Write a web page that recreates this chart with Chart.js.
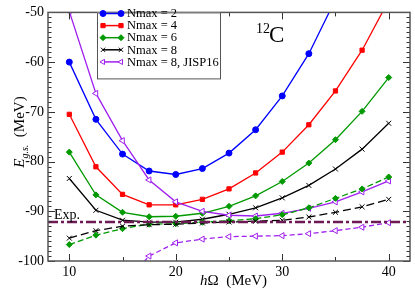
<!DOCTYPE html>
<html><head><meta charset="utf-8">
<script src="https://cdn.jsdelivr.net/npm/chart.js@4/dist/chart.umd.min.js"></script>
<style>html,body{margin:0;padding:0;background:#fff}canvas{display:block}</style>
</head><body>
<canvas id="c" width="415" height="290"></canvas>
<script>
// ---- data ----
const hw = [10, 12.5, 15, 17.5, 20, 22.5, 25, 27.5, 30, 32.5, 35, 37.5, 40];
const nmax2 = [-60.0, -71.5, -78.5, -81.9, -82.6, -81.4, -78.3, -73.6, -66.8, -58.3, -47.4, null, null];
const nmax4 = [-70.5, -81.05, -86.6, -88.7, -88.7, -87.6, -85.5, -82.3, -78.1, -72.6, -65.8, -57.6, -47.6];
const nmax6 = [-78.1, -86.7, -90.2, -91.1, -91.0, -90.4, -89.0, -86.9, -84.0, -80.3, -75.6, -69.9, -63.1];
const nmax8 = [-83.4, -89.8, -91.8, -92.2, -92.2, -91.6, -90.6, -89.3, -87.3, -84.8, -81.5, -77.5, -72.3];
const nmax8jisp = [-49.8, -66.3, -75.8, -83.7, -88.1, -90.0, -90.8, -90.95, -90.4, -89.4, -88.1, -86.1, -83.9];
const extrap6 = [-96.7, -94.8, -93.5, -92.6, -92.5, -92.2, -91.9, -91.5, -90.7, -89.3, -87.4, -85.5, -83.1];
const extrap8 = [-95.4, -93.9, -93.0, -92.7, -92.6, -92.35, -92.15, -92.0, -91.8, -91.15, -90.2, -89.1, -87.6];
const extrap8jisp = [null, null, -105, -99.0, -96.35, -95.6, -95.1, -95.0, -94.9, -94.5, -93.9, -93.2, -92.3];
const expValue = -92.16;
const xTicks = [10, 20, 30, 40];
const yTicks = [-100, -90, -80, -70, -60, -50];
const legendLabels = ['Nmax = 2', 'Nmax = 4', 'Nmax = 6', 'Nmax = 8', 'Nmax = 8, JISP16'];

const pts = arr => hw.map((x, i) => ({x: x, y: arr[i]})).filter(p => p.y !== null);

const BLUE = '#0000ff', RED = '#ff0000', GREEN = '#009a00', BLACK = '#000000', PURPLE = '#a020f0', EXPC = '#6e1a55';
const serif = '"Liberation Serif", "DejaVu Serif", serif';

function ds(data, color, style, opts) {
  return Object.assign({
    data: pts(data), borderColor: color, backgroundColor: color,
    pointBorderColor: color, pointBackgroundColor: color,
    pointStyle: style, pointRadius: 3, pointBorderWidth: 1,
    borderWidth: 1.3, tension: 0, showLine: true, spanGaps: false
  }, opts || {});
}

const datasets = [
  {data: [{x: 8, y: expValue}, {x: 42, y: expValue}], borderColor: EXPC, borderWidth: 2.5,
   borderDash: [10, 3, 3, 3], pointRadius: 0, showLine: true},
  ds(extrap8jisp, PURPLE, 'triangle', {borderDash: [5, 3], pointRotation: -90, pointBackgroundColor: '#fff', pointRadius: 3.5}),
  ds(extrap8, BLACK, 'crossRot', {borderDash: [8, 4], pointRadius: 3.5}),
  ds(extrap6, GREEN, 'rectRot', {borderDash: [6, 3]}),
  ds(nmax8jisp, PURPLE, 'triangle', {pointRotation: -90, pointBackgroundColor: '#fff', pointRadius: 3.5}),
  ds(nmax8, BLACK, 'crossRot', {pointRadius: 3.5}),
  ds(nmax6, GREEN, 'rectRot'),
  ds(nmax4, RED, 'rect'),
  ds(nmax2, BLUE, 'circle')
];

const legendStyles = [
  {c: BLUE, s: 'circle'}, {c: RED, s: 'rect'}, {c: GREEN, s: 'rectRot'},
  {c: BLACK, s: 'crossRot'}, {c: PURPLE, s: 'triangle', rot: -90, fill: '#fff'}
];

const decor = {
  id: 'decor',
  afterDatasetsDraw(chart) {
    const ctx = chart.ctx, a = chart.chartArea, xs = chart.scales.x, ys = chart.scales.y;
    ctx.save();
    // ticks (inward, all sides)
    ctx.strokeStyle = '#333'; ctx.lineWidth = 1;
    for (let v = 10; v <= 40; v += 5) {
      const px = Math.round(xs.getPixelForValue(v)) + 0.5;
      const L = (v % 10 === 0) ? 7 : 4;
      ctx.beginPath(); ctx.moveTo(px, a.bottom); ctx.lineTo(px, a.bottom - L);
      ctx.moveTo(px, a.top); ctx.lineTo(px, a.top + L); ctx.stroke();
    }
    for (let v = -100; v <= -50; v += 1) {
      const py = Math.round(ys.getPixelForValue(v)) + 0.5;
      const L = (v % 10 === 0) ? 7 : 3.5;
      ctx.beginPath(); ctx.moveTo(a.left, py); ctx.lineTo(a.left + L, py);
      ctx.moveTo(a.right, py); ctx.lineTo(a.right - L, py); ctx.stroke();
    }
    // frame
    ctx.strokeStyle = '#555'; ctx.lineWidth = 1.5;
    ctx.strokeRect(a.left, a.top, a.right - a.left, a.bottom - a.top);

    // legend box
    const lx = 97, ly = a.top, lw = 123, lh = 66;
    ctx.fillStyle = '#fff'; ctx.fillRect(lx, ly, lw, lh);
    ctx.strokeStyle = '#555'; ctx.lineWidth = 1; ctx.strokeRect(lx + 0.5, ly + 0.5, lw, lh);
    ctx.font = '12.5px ' + serif; ctx.textBaseline = 'middle'; ctx.textAlign = 'left';
    for (let i = 0; i < legendLabels.length; i++) {
      const y = 13.5 + i * 12.1, st = legendStyles[i];
      ctx.strokeStyle = st.c; ctx.lineWidth = 1.5;
      ctx.beginPath(); ctx.moveTo(103, y); ctx.lineTo(121, y); ctx.stroke();
      [103, 121].forEach(px => {
        ctx.fillStyle = st.fill || st.c; ctx.strokeStyle = st.c; ctx.lineWidth = 1;
        Chart.helpers.drawPoint(ctx, {pointStyle: st.s, rotation: st.rot || 0, radius: 3, borderWidth: 1}, px, y);
      });
      ctx.fillStyle = '#000';
      ctx.fillText(legendLabels[i], 127, y + 0.5);
    }

    // 12C label
    ctx.fillStyle = '#000'; ctx.textBaseline = 'alphabetic';
    ctx.font = '14px ' + serif; ctx.fillText('12', 256, 33);
    ctx.font = '23px ' + serif; ctx.fillText('C', 269, 42);

    // Exp. label
    ctx.font = '14px ' + serif; ctx.fillText('Exp.', 54, 219);

    // x title
    ctx.font = 'italic 15px ' + serif; ctx.fillText('h', 200, 285);
    let w = ctx.measureText('h').width;
    ctx.font = '15px ' + serif; ctx.fillText('\u03A9  (MeV)', 200 + w, 285);

    // y title (rotated)
    ctx.translate(24, 132); ctx.rotate(-Math.PI / 2);
    ctx.textBaseline = 'alphabetic';
    const parts = [['italic 15px ', 'E', 0], ['italic 10px ', 'g.s.', 4], ['15px ', '  (MeV)', 0]];
    let tot = 0;
    parts.forEach(p => { ctx.font = p[0] + serif; tot += ctx.measureText(p[1]).width; });
    let cx = -tot / 2;
    parts.forEach(p => { ctx.font = p[0] + serif; ctx.fillText(p[1], cx, p[2]); cx += ctx.measureText(p[1]).width; });
    ctx.restore();
  }
};

new Chart(document.getElementById('c'), {
  type: 'scatter',
  data: {datasets: datasets},
  options: {
    responsive: false, animation: false, devicePixelRatio: 1,
    layout: {padding: {left: 0, right: 2, top: 5, bottom: 0}},
    plugins: {legend: {display: false}, tooltip: {enabled: false}},
    scales: {
      x: {
        type: 'linear', min: 8, max: 42,
        grid: {display: false, drawTicks: false}, border: {display: false},
        afterBuildTicks: s => { s.ticks = xTicks.map(v => ({value: v})); },
        afterFit: s => { s.height = 29; },
        ticks: {padding: 3, color: '#000', font: {family: serif, size: 14}, maxRotation: 0}
      },
      y: {
        type: 'linear', min: -100, max: -50,
        grid: {display: false, drawTicks: false}, border: {display: false},
        afterBuildTicks: s => { s.ticks = yTicks.map(v => ({value: v})); },
        afterFit: s => { s.width = 48; },
        ticks: {padding: 4, color: '#000', font: {family: serif, size: 14}}
      }
    }
  },
  plugins: [decor]
});
</script>
</body></html>
